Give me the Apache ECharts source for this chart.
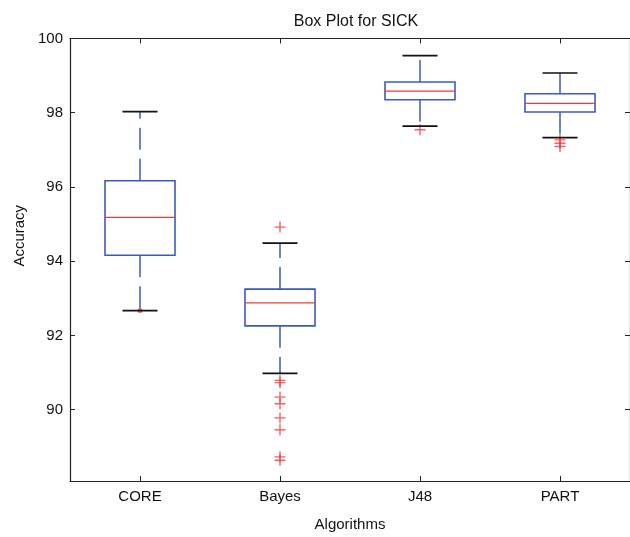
<!DOCTYPE html>
<html>
<head>
<meta charset="utf-8">
<script src="https://cdn.jsdelivr.net/npm/echarts@6/dist/echarts.min.js"></script>
<style>html,body{margin:0;padding:0;background:#fff}#c{width:630px;height:537px}</style>
</head>
<body>
<div id="c"></div>
<script>
const categories = ['CORE', 'Bayes', 'J48', 'PART'];
const lowerWhisker = [92.67, 90.98, 97.64, 97.33];
const q1 = [94.16, 92.26, 98.35, 98.02];
const median = [95.18, 92.88, 98.58, 98.25];
const q3 = [96.17, 93.25, 98.83, 98.51];
const upperWhisker = [98.03, 94.49, 99.54, 99.07];
const outliersCORE = [92.67];
const outliersBayes = [94.92, 90.79, 90.73, 90.34, 90.16, 89.78, 89.46, 88.73, 88.64];
const outliersJ48 = [97.54];
const outliersPART = [97.27, 97.18, 97.09];
const yTicks = [90, 92, 94, 96, 98, 100];

const FONT = '"Liberation Sans", Arial, sans-serif';
const BLUE = '#3d5cb8';
const RED = '#f23a3a';

const boxData = categories.map((c, i) => [i, lowerWhisker[i], q1[i], median[i], q3[i], upperWhisker[i]]);
const plus = 'path://M0,5L10,5M5,0L5,10';
const outlierData = [];
outliersCORE.forEach(v => outlierData.push({value: [0, v], symbol: 'circle', symbolSize: 5, itemStyle: {color: RED, borderWidth: 0}}));
[[1, outliersBayes], [2, outliersJ48], [3, outliersPART]].forEach(([i, arr]) => arr.forEach(v => outlierData.push({value: [i, v]})));

const chart = echarts.init(document.getElementById('c'), null, {renderer: 'canvas'});

function renderItem(params, api) {
  const x = api.value(0);
  const pLow = api.coord([x, api.value(1)]);
  const pQ1 = api.coord([x, api.value(2)]);
  const pMed = api.coord([x, api.value(3)]);
  const pQ3 = api.coord([x, api.value(4)]);
  const pHigh = api.coord([x, api.value(5)]);
  const band = api.size([1, 0])[0];
  const bw = band * 0.5;
  const cw = band * 0.25;
  const cx = pMed[0];
  const children = [
    {type: 'line', shape: {x1: cx, y1: pQ3[1], x2: cx, y2: pHigh[1]}, style: {stroke: BLUE, lineWidth: 1.5, lineDash: [22, 9]}},
    {type: 'line', shape: {x1: cx, y1: pQ1[1], x2: cx, y2: pLow[1]}, style: {stroke: BLUE, lineWidth: 1.5, lineDash: [22, 9]}},
    {type: 'line', shape: {x1: cx - cw / 2, y1: pHigh[1], x2: cx + cw / 2, y2: pHigh[1]}, style: {stroke: '#111', lineWidth: 1.7}},
    {type: 'line', shape: {x1: cx - cw / 2, y1: pLow[1], x2: cx + cw / 2, y2: pLow[1]}, style: {stroke: '#111', lineWidth: 1.7}},
    {type: 'rect', shape: {x: cx - bw / 2, y: pQ3[1], width: bw, height: pQ1[1] - pQ3[1]}, style: {fill: 'none', stroke: BLUE, lineWidth: 1.6}},
    {type: 'line', shape: {x1: cx - bw / 2, y1: pMed[1], x2: cx + bw / 2, y2: pMed[1]}, style: {stroke: RED, lineWidth: 1.3}}
  ];
  return {type: 'group', children};
}

const axisCommon = {
  axisLine: {show: true, lineStyle: {color: '#222', width: 1.2}},
  axisTick: {show: true, inside: true, length: 5, lineStyle: {color: '#222'}},
  splitLine: {show: false}
};

chart.setOption({
  animation: false,
  backgroundColor: '#fff',
  title: {
    text: 'Box Plot for SICK', left: 351, top: 9, textAlign: 'center',
    textStyle: {fontFamily: FONT, fontSize: 16, fontWeight: 'normal', color: '#111'}
  },
  grid: {left: 70, right: -3, top: 38.5, bottom: 55.5, containLabel: false},
  xAxis: [
    Object.assign({}, axisCommon, {
      type: 'category', data: categories, position: 'bottom', boundaryGap: true,
      axisTick: Object.assign({}, axisCommon.axisTick, {alignWithLabel: true}),
      axisLabel: {fontFamily: FONT, fontSize: 15, color: '#111', margin: 8},
      name: 'Algorithms', nameLocation: 'middle', nameGap: 36,
      nameTextStyle: {fontFamily: FONT, fontSize: 15, color: '#111'}
    }),
    Object.assign({}, axisCommon, {
      type: 'category', data: categories, position: 'top', boundaryGap: true,
      axisTick: Object.assign({}, axisCommon.axisTick, {alignWithLabel: true}),
      axisLabel: {show: false}
    })
  ],
  yAxis: [
    Object.assign({}, axisCommon, {
      type: 'value', position: 'left', min: 88.08, max: 100, splitNumber: 6,
      axisLabel: {fontFamily: FONT, fontSize: 15, color: '#111', margin: 7, showMinLabel: false,
        formatter: v => (yTicks.indexOf(Math.round(v * 100) / 100) >= 0 ? String(v) : '')},
      name: 'Accuracy', nameLocation: 'middle', nameGap: 40, nameRotate: 90,
      nameTextStyle: {fontFamily: FONT, fontSize: 15, color: '#111', padding: [0, 0, 0, 48]}
    }),
    Object.assign({}, axisCommon, {
      type: 'value', position: 'right', min: 88.08, max: 100, splitNumber: 6,
      axisLabel: {show: false}
    })
  ],
  series: [
    {type: 'custom', xAxisIndex: 0, yAxisIndex: 0, renderItem, data: boxData, encode: {x: 0, y: [1, 2, 3, 4, 5]}, z: 2},
    {type: 'scatter', xAxisIndex: 0, yAxisIndex: 0, data: outlierData, symbol: plus, symbolSize: 11,
      itemStyle: {color: 'none', borderColor: RED, borderWidth: 1.4}, z: 1}
  ]
});
</script>
</body>
</html>
